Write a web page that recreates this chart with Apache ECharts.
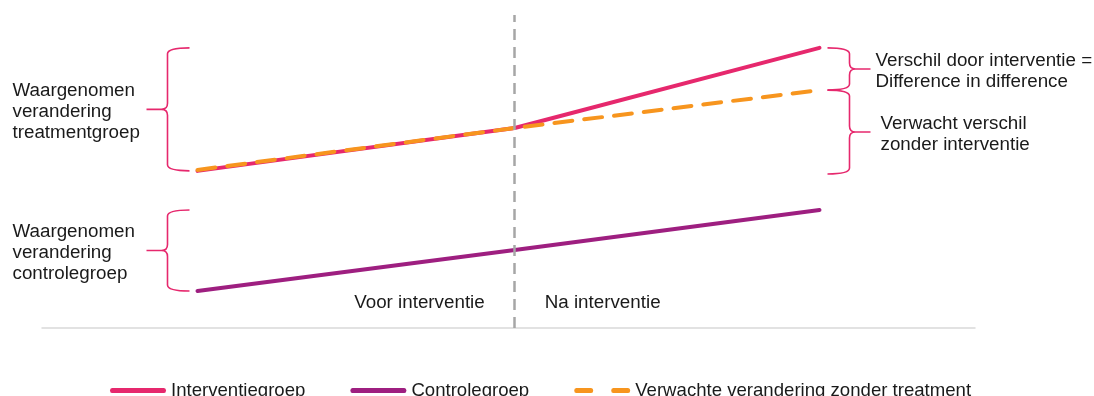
<!DOCTYPE html>
<html>
<head>
<meta charset="utf-8">
<script src="https://cdn.jsdelivr.net/npm/echarts@6/dist/echarts.min.js"></script>
<style>
html,body{margin:0;padding:0;background:#fff;}
#c{width:1094px;height:396px;}
</style>
</head>
<body>
<div id="c"></div>
<script>
// ---- data ----
const periods = [0, 51, 100];              // start, moment of intervention, end
const interventiegroep = [50.2, 63.9, 89.5];
const controlegroep = [11.8, 24.9, 37.7];
const verwacht = [50.5, 63.9, 76.0];
const seriesNames = ['Interventiegroep', 'Controlegroep', 'Verwachte verandering zonder treatment'];
const periodLabels = ['Voor interventie', 'Na interventie'];
const braceLabels = [
  'Waargenomen\nverandering\ntreatmentgroep',
  'Waargenomen\nverandering\ncontrolegroep',
  'Verschil door interventie =\nDifference in difference',
  'Verwacht verschil\nzonder interventie'
];
// braces: [x, yTop, yBottom, side]
const braces = [
  [periods[0], interventiegroep[2], interventiegroep[0], -1],
  [periods[0], controlegroep[2], controlegroep[0], -1],
  [periods[2], interventiegroep[2], verwacht[2], 1],
  [periods[2], verwacht[2], interventiegroep[0] - 1, 1]
];

const PINK = '#E6286D', PURPLE = '#9E1F80', ORANGE = '#F7951E';
const FAMILY = '"Liberation Sans", Arial, sans-serif';
const FONT = '18.8px ' + FAMILY;

function pts(arr){ return periods.map((x,i)=>[x, arr[i]]); }

const SOLID_ICON = 'path://M2,0 H54 A2,2 0 0 1 54,4 H2 A2,2 0 0 1 2,0 Z';
const DASH_ICON = 'path://M2,0 H16 A2,2 0 0 1 16,4 H2 A2,2 0 0 1 2,0 Z M37,0 H51 A2,2 0 0 1 51,4 H37 A2,2 0 0 1 37,0 Z';

const chart = echarts.init(document.getElementById('c'), null, {renderer:'canvas'});
chart.setOption({
  animation: false,
  grid: {left: 42, right: 119, top: 15, bottom: 68},
  xAxis: {type:'value', min:-25, max:125, axisLine:{show:true, onZero:false, lineStyle:{color:'#d9d9d9', width:1.5}},
          axisTick:{show:false}, axisLabel:{show:false}, splitLine:{show:false}},
  yAxis: {type:'value', min:0, max:100, show:false, splitLine:{show:false}},
  legend: {
    left: 105, top: 376, itemWidth: 56, itemHeight: 5, itemGap: 45, symbolKeepAspect: false,
    textStyle: {fontFamily: FAMILY, fontSize:18.6, color:'#1a1a1a'},
    data: [
      {name: seriesNames[0], icon: SOLID_ICON, itemStyle:{color:PINK}},
      {name: seriesNames[1], icon: SOLID_ICON, itemStyle:{color:PURPLE}},
      {name: seriesNames[2], icon: DASH_ICON, itemStyle:{color:ORANGE}}
    ]
  },
  series: [
    {name: seriesNames[0], type:'line', data: pts(interventiegroep), symbol:'none',
     lineStyle:{color:PINK, width:4, cap:'round'}, itemStyle:{color:PINK}, z:3,
     markLine:{silent:true, symbol:'none', label:{show:false},
       lineStyle:{color:'#A6A6A6', width:2.5, type:[11,7]}, data:[{xAxis: periods[1]}]}},
    {name: seriesNames[1], type:'line', data: pts(controlegroep), symbol:'none',
     lineStyle:{color:PURPLE, width:4, cap:'round'}, itemStyle:{color:PURPLE}, z:3},
    {name: seriesNames[2], type:'line', data: pts(verwacht), symbol:'none',
     lineStyle:{color:ORANGE, width:4, type:[18,12], cap:'round'}, itemStyle:{color:ORANGE}, z:4},
    {type:'custom', silent:true, data: braces, z:2,
     renderItem: function(params, api){
       const x = api.value(0), side = api.value(3);
       const p1 = api.coord([x, api.value(1)]), p2 = api.coord([x, api.value(2)]);
       const top = p1[1], bot = p2[1], mid = (top+bot)/2, x0 = p1[0];
       const hx = x0 + side*8, sx = x0 + side*30, tx = x0 + side*51, r = 6;
       const d = `M${hx},${top} Q${sx},${top} ${sx},${top+r} L${sx},${mid-r} Q${sx},${mid} ${sx+side*r},${mid} L${tx},${mid} ` +
                 `M${sx+side*r},${mid} Q${sx},${mid} ${sx},${mid+r} L${sx},${bot-r} Q${sx},${bot} ${hx},${bot}`;
       const label = braceLabels[params.dataIndex];
       const textX = side < 0 ? tx - 134 : tx + 5 + (params.dataIndex === 3 ? 5 : 0);
       return {type:'group', children:[
         {type:'path', shape:{pathData:d}, style:{stroke:PINK, fill:null, lineWidth:1.6}},
         {type:'text', style:{text:label, x:textX, y:mid + 2, textAlign:'left', textVerticalAlign:'middle',
           font:FONT, lineHeight:21, fill:'#1a1a1a'}}
       ]};
     }},
    {type:'custom', silent:true, data: [[periods[1], 8, -1], [periods[1], 8, 1]], z:2,
     renderItem: function(params, api){
       const p = api.coord([api.value(0), api.value(1)]);
       const side = api.value(2);
       return {type:'text', style:{text: periodLabels[params.dataIndex], x: p[0] + side*30,
         y: p[1], textAlign: side<0 ? 'right' : 'left', textVerticalAlign:'middle', font:FONT, fill:'#1a1a1a'}};
     }}
  ]
});
</script>
</body>
</html>
